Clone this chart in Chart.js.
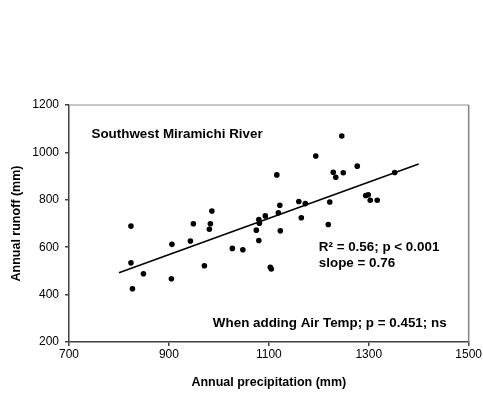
<!DOCTYPE html>
<html>
<head>
<meta charset="utf-8">
<script src="https://cdn.jsdelivr.net/npm/chart.js@4/dist/chart.umd.min.js"></script>
<style>
  html, body { margin: 0; padding: 0; background: #ffffff; }
  #wrap { width: 483px; height: 394px; }
</style>
</head>
<body>
<div id="wrap"><canvas id="c" width="483" height="394"></canvas></div>
<script>
// Observed data: annual precipitation (mm) vs annual runoff (mm)
const precipitation = [824, 824, 827, 849, 905, 906, 943, 949, 971, 981, 983, 986,
  1027, 1048, 1075, 1080, 1080, 1081, 1093, 1103, 1105, 1116, 1119, 1122, 1123,
  1160, 1165, 1173, 1194, 1219, 1222, 1229, 1234, 1246, 1249, 1277, 1294, 1299,
  1303, 1317, 1352];
const runoff = [689, 534, 425, 488, 467, 612, 626, 699, 522, 676, 699, 753,
  595, 589, 672, 628, 717, 701, 732, 515, 508, 905, 745, 777, 669,
  793, 724, 784, 985, 696, 791, 916, 895, 1069, 914, 942, 818, 821,
  798, 798, 915];

// Regression line end points
const fitX = [800, 1400];
const fitY = [492, 951];

// Axis ticks
const xTicks = [700, 900, 1100, 1300, 1500];
const yTicks = [200, 400, 600, 800, 1000, 1200];

// Annotation texts and their data anchors
const notes = [
  { text: 'Southwest Miramichi River', x: 745, y: 1078 },
  { text: 'R\u00B2 = 0.56; p < 0.001', x: 1200, y: 601 },
  { text: 'slope = 0.76', x: 1200, y: 533 },
  { text: 'When adding Air Temp; p = 0.451; ns', x: 988, y: 280 }
];

const FONT = '"Liberation Sans", Arial, sans-serif';

const annotationPlugin = {
  id: 'annot',
  afterDatasetsDraw(chart) {
    const { ctx, chartArea: a, scales } = chart;
    ctx.save();
    // top and right frame
    ctx.lineWidth = 1.5;
    ctx.strokeStyle = '#b4b4b4';
    ctx.beginPath();
    ctx.moveTo(a.left, a.top);
    ctx.lineTo(a.right, a.top);
    ctx.stroke();
    ctx.strokeStyle = '#808080';
    ctx.beginPath();
    ctx.moveTo(a.right, a.top);
    ctx.lineTo(a.right, a.bottom);
    ctx.stroke();
    // texts
    ctx.fillStyle = '#000000';
    ctx.font = 'bold 13.4px ' + FONT;
    ctx.textAlign = 'left';
    ctx.textBaseline = 'middle';
    notes.forEach(n => {
      ctx.fillText(n.text, scales.x.getPixelForValue(n.x), scales.y.getPixelForValue(n.y));
    });
    ctx.restore();
  }
};

new Chart(document.getElementById('c'), {
  type: 'scatter',
  data: {
    datasets: [
      {
        label: 'Observed',
        data: precipitation.map((v, i) => ({ x: v, y: runoff[i] })),
        backgroundColor: '#000000',
        borderColor: '#000000',
        pointRadius: 2.8,
        pointHoverRadius: 2.8,
        borderWidth: 0
      },
      {
        label: 'Fit',
        type: 'line',
        data: fitX.map((v, i) => ({ x: v, y: fitY[i] })),
        borderColor: '#000000',
        borderWidth: 1.6,
        pointRadius: 0,
        fill: false
      }
    ]
  },
  options: {
    responsive: false,
    animation: false,
    events: [],
    layout: { padding: { top: 105, right: 14, bottom: 0, left: 0 } },
    plugins: { legend: { display: false }, tooltip: { enabled: false } },
    scales: {
      x: {
        type: 'linear',
        min: 700, max: 1500,
        afterBuildTicks: s => { s.ticks = xTicks.map(v => ({ value: v })); },
        afterFit: s => { s.height = 52; },
        grid: { display: true, drawOnChartArea: false, drawTicks: true, tickLength: 4, color: '#404040', lineWidth: 1.5 },
        border: { display: true, color: '#404040', width: 1.5 },
        ticks: { color: '#000000', font: { family: FONT, size: 12 }, padding: 1, maxRotation: 0,
                 callback: v => String(v) },
        title: { display: true, text: 'Annual precipitation (mm)', color: '#000000',
                 font: { family: FONT, size: 12.5, weight: 'bold' }, padding: { top: 0, bottom: 3.5 } }
      },
      y: {
        type: 'linear',
        min: 200, max: 1200,
        afterBuildTicks: s => { s.ticks = yTicks.map(v => ({ value: v })); },
        afterFit: s => { s.width = 69; },
        grid: { display: true, drawOnChartArea: false, drawTicks: true, tickLength: 4, color: '#404040', lineWidth: 1.5 },
        border: { display: true, color: '#404040', width: 1.5 },
        ticks: { color: '#000000', font: { family: FONT, size: 12 }, padding: 6,
                 callback: v => String(v) },
        title: { display: true, text: 'Annual runoff (mm)', color: '#000000',
                 font: { family: FONT, size: 12.5, weight: 'bold' }, padding: { top: 9, bottom: 0 } }
      }
    }
  },
  plugins: [annotationPlugin]
});
</script>
</body>
</html>
